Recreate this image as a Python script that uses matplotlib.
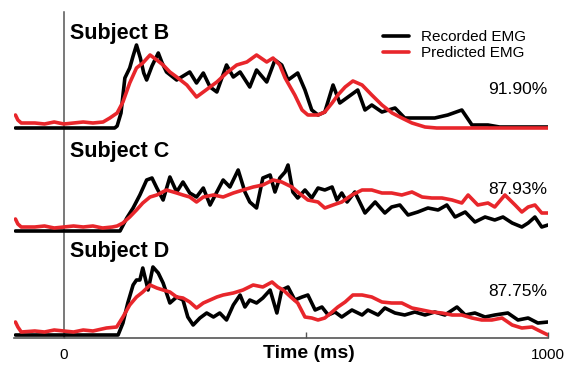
import matplotlib.pyplot as plt

plt.rcParams["font.family"] = ["Liberation Sans", "DejaVu Sans"]

# EMG envelopes (time in ms, amplitude in arbitrary units)
t_b_rec = [-100, 0, 105, 110, 118, 126, 136, 143, 150, 158, 165, 171, 182, 195, 203, 212, 233, 260, 274, 288,
           302, 316, 336, 350, 364, 384, 398, 419, 436, 450, 463, 483, 498, 512, 525, 539, 556, 570, 587, 607,
           622, 636, 657, 684, 704, 731, 766, 793, 822, 843, 876, 900, 1000]
emg_b_rec = [0, 0, 0, 2, 15, 50, 60, 72, 83, 70, 55, 48, 62, 75, 65, 56, 48, 56, 45, 55,
             41, 36, 63, 51, 56, 41, 58, 46, 68, 63, 48, 55, 38, 18, 13, 16, 43, 25, 31, 38,
             18, 23, 16, 20, 10, 10, 10, 13, 18, 3, 3, 1, 1]
t_b_pred = [-100, -95, -88, -60, -40, -20, 0, 20, 40, 60, 81, 95, 110, 122, 136, 150, 163, 178, 192, 205,
            219, 233, 254, 274, 288, 302, 316, 336, 357, 378, 398, 419, 432, 446, 457, 477, 492, 504, 525, 539,
            554, 566, 581, 597, 616, 636, 657, 678, 698, 719, 746, 770, 1000]
emg_b_pred = [13, 8, 5, 5, 4, 6, 4, 5, 6, 5, 6, 10, 15, 26, 45, 60, 65, 73, 68, 63,
              56, 51, 43, 31, 36, 41, 46, 55, 63, 66, 73, 66, 70, 63, 50, 33, 18, 13, 13, 16,
              25, 33, 41, 47, 43, 33, 23, 15, 10, 5, 1, 0, 0]

t_c_rec = [-100, 0, 116, 130, 143, 157, 171, 182, 192, 205, 219, 233, 246, 260, 274, 288, 302, 316, 329, 343,
           360, 374, 384, 398, 411, 426, 436, 446, 457, 463, 473, 483, 498, 512, 525, 539, 554, 564, 574, 585,
           601, 622, 643, 663, 677, 694, 711, 731, 752, 773, 791, 808, 829, 849, 870, 890, 907, 926, 946, 959,
           973, 987, 1000]
emg_c_rec = [0, 0, 0, 13, 23, 36, 51, 53, 43, 31, 54, 39, 49, 38, 34, 43, 26, 39, 51, 44,
             61, 39, 29, 23, 53, 56, 39, 53, 59, 66, 39, 33, 41, 33, 43, 41, 44, 31, 38, 29,
             39, 18, 29, 18, 24, 26, 16, 19, 23, 21, 26, 14, 19, 9, 14, 11, 14, 8, 4, 8,
             14, 4, 6]
t_c_pred = [-100, -95, -88, -60, -40, -20, 0, 20, 40, 60, 80, 100, 110, 122, 136, 150, 163, 178, 192, 212,
            233, 246, 260, 274, 288, 309, 329, 350, 370, 391, 411, 432, 450, 471, 483, 504, 525, 539, 556, 574,
            595, 616, 636, 657, 677, 698, 719, 740, 760, 781, 802, 822, 835, 855, 876, 890, 911, 932, 946, 959,
            973, 987, 1000]
emg_c_pred = [12, 7, 4, 4, 5, 3, 4, 5, 4, 5, 3, 4, 5, 8, 14, 21, 28, 34, 36, 41,
              38, 36, 34, 29, 34, 36, 34, 38, 41, 44, 46, 51, 49, 44, 39, 31, 29, 23, 26, 29,
              36, 41, 41, 38, 38, 36, 39, 34, 33, 33, 31, 28, 36, 26, 28, 24, 36, 26, 19, 24,
              26, 18, 18]

t_d_rec = [-100, 0, 112, 122, 132, 143, 150, 157, 163, 174, 184, 195, 205, 219, 233, 246, 256, 267, 281, 295,
           309, 322, 336, 350, 364, 374, 384, 398, 411, 426, 440, 450, 463, 477, 492, 504, 519, 533, 546, 560,
           574, 595, 616, 628, 649, 663, 684, 704, 725, 746, 766, 787, 812, 829, 849, 870, 890, 917, 938, 959,
           979, 1000]
emg_d_rec = [0, 0, 0, 12, 32, 50, 55, 55, 67, 45, 68, 62, 52, 32, 38, 35, 18, 10, 17, 22,
             18, 22, 15, 30, 40, 28, 35, 32, 37, 45, 22, 45, 48, 35, 38, 40, 25, 28, 20, 23,
             18, 25, 20, 25, 20, 27, 22, 20, 23, 20, 23, 20, 28, 20, 22, 18, 20, 22, 15, 17,
             12, 13]
t_d_pred = [-100, -95, -88, -60, -40, -20, 0, 20, 40, 60, 88, 109, 122, 136, 150, 163, 178, 192, 205, 219,
            233, 246, 260, 274, 288, 302, 316, 329, 350, 370, 391, 411, 430, 442, 453, 471, 483, 498, 512, 525,
            539, 554, 566, 581, 597, 616, 636, 657, 677, 698, 719, 740, 760, 781, 802, 822, 843, 863, 884, 905,
            926, 946, 967, 979, 1000]
emg_d_pred = [13, 8, 3, 4, 3, 5, 4, 3, 5, 4, 7, 8, 18, 30, 38, 43, 50, 47, 45, 43,
              38, 37, 33, 27, 32, 35, 38, 40, 42, 45, 50, 48, 53, 48, 45, 37, 32, 18, 17, 15,
              17, 23, 28, 33, 40, 40, 38, 33, 32, 32, 27, 25, 23, 22, 20, 20, 17, 15, 15, 17,
              10, 7, 8, 5, 0]

subjects = ["Subject B", "Subject C", "Subject D"]
accuracy = ["91.90%", "87.93%", "87.75%"]
xticks = [0, 500, 1000]
xticklabels = ["0", "", "1000"]

recorded = [(t_b_rec, emg_b_rec), (t_c_rec, emg_c_rec), (t_d_rec, emg_d_rec)]
predicted = [(t_b_pred, emg_b_pred), (t_c_pred, emg_c_pred), (t_d_pred, emg_d_pred)]
offsets = [210, 107, 3]
label_y = [305, 186, 86]
acc_y = [249, 148, 46]

black = "#000000"
red = "#e8262b"

fig = plt.figure(figsize=(5.71, 3.65), dpi=100)
ax = fig.add_axes([14 / 571, 27 / 365, 534 / 571, 328 / 365])

ax.axvline(0, ymax=326 / 328, color="#555555", lw=1.1, zorder=1)

for i in range(3):
    t, v = recorded[i]
    ax.plot(t, [a + offsets[i] for a in v], color=black, lw=2.6, solid_joinstyle="round",
            solid_capstyle="round", zorder=2, label="Recorded EMG" if i == 0 else None)
    t, v = predicted[i]
    ax.plot(t, [a + offsets[i] for a in v], color=red, lw=2.6, solid_joinstyle="round",
            solid_capstyle="round", zorder=3, label="Predicted EMG" if i == 0 else None)
    ax.text(12, label_y[i], subjects[i], fontsize=15.5, fontweight="bold", va="center", ha="left")
    ax.text(998, acc_y[i], accuracy[i], fontsize=12.5, va="center", ha="right")

ax.set_xlim(-103, 1000)
ax.set_ylim(0, 328)

for s in ["top", "right", "left"]:
    ax.spines[s].set_visible(False)
ax.spines["bottom"].set_color("#555555")
ax.spines["bottom"].set_linewidth(1.2)
ax.set_yticks([])
ax.set_xticks(xticks)
ax.set_xticklabels(xticklabels, fontsize=11)
ax.tick_params(axis="x", direction="in", length=4, width=1, color="#555555", pad=7)
ax.set_xlabel("Time (ms)", fontsize=14, fontweight="bold")
ax.xaxis.set_label_coords(0.552, -0.022)

ax.legend(loc="upper left", bbox_to_anchor=(383 / 571, 1 - 30 / 365), bbox_transform=fig.transFigure,
          frameon=False, fontsize=11, handlelength=1.7, handletextpad=0.8, labelspacing=0.15,
          borderpad=0, borderaxespad=0)

fig.savefig("out.png", dpi=100)
